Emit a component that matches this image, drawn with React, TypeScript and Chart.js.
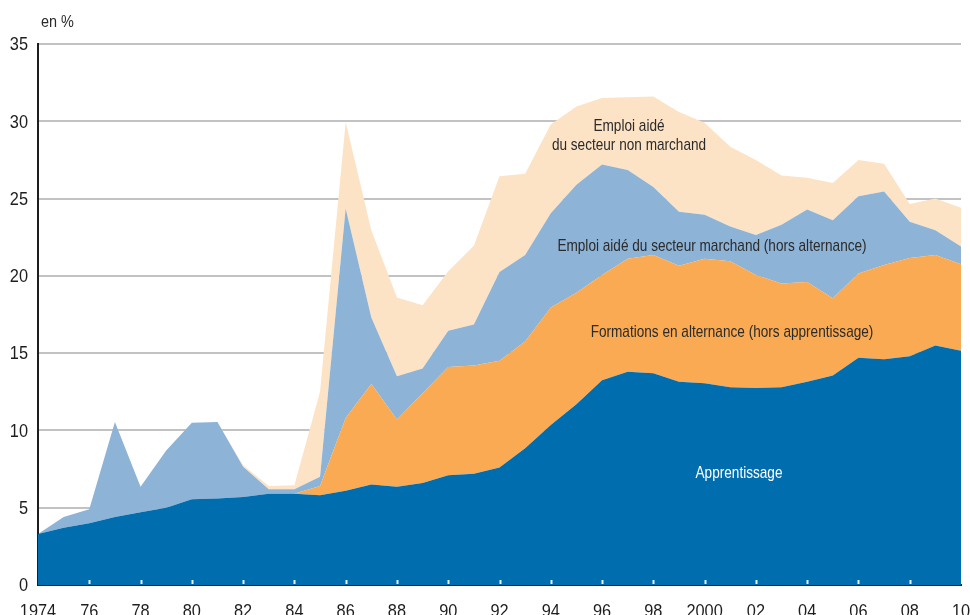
import React, { useEffect, useRef } from "react";
import { Chart, registerables } from "chart.js";

Chart.register(...registerables);

const years = [
  1974, 1975, 1976, 1977, 1978, 1979, 1980, 1981, 1982, 1983, 1984, 1985,
  1986, 1987, 1988, 1989, 1990, 1991, 1992, 1993, 1994, 1995, 1996, 1997,
  1998, 1999, 2000, 2001, 2002, 2003, 2004, 2005, 2006, 2007, 2008, 2009, 2010,
];

const xTickLabels = [
  "1974", "76", "78", "80", "82", "84", "86", "88", "90", "92",
  "94", "96", "98", "2000", "02", "04", "06", "08", "10",
];

const yTicks = [0, 5, 10, 15, 20, 25, 30, 35];

const apprentissage = [
  3.3, 3.7, 4.0, 4.4, 4.7, 5.0, 5.55, 5.6, 5.7, 5.9, 5.9, 5.8,
  6.1, 6.5, 6.35, 6.6, 7.1, 7.2, 7.6, 8.85, 10.35, 11.7, 13.25, 13.8,
  13.7, 13.15, 13.05, 12.8, 12.75, 12.8, 13.15, 13.55, 14.7, 14.6, 14.8, 15.5, 15.15,
];

const formations = [
  0, 0, 0, 0, 0, 0, 0, 0, 0, 0, 0, 0.6,
  4.7, 6.5, 4.35, 5.8, 7.0, 7.0, 6.9, 6.9, 7.6, 7.2, 6.8, 7.3,
  7.65, 7.5, 8.05, 8.15, 7.3, 6.7, 6.45, 5.0, 5.45, 6.1, 6.35, 5.85, 5.6,
];

const marchand = [
  0, 0.7, 0.9, 6.15, 1.65, 3.7, 4.95, 4.95, 1.95, 0.3, 0.3, 0.6,
  13.55, 4.3, 2.8, 1.6, 2.35, 2.65, 5.75, 5.6, 6.1, 7.0, 7.15, 5.75,
  4.4, 3.5, 2.85, 2.25, 2.6, 3.8, 4.7, 5.05, 5.0, 4.75, 2.35, 1.6, 1.15,
];

const nonMarchand = [
  0, 0, 0, 0, 0, 0, 0, 0, 0.1, 0.2, 0.25, 5.5,
  5.6, 5.65, 5.1, 4.1, 3.85, 5.1, 6.2, 5.25, 5.75, 5.05, 4.3, 4.7,
  5.85, 6.45, 5.95, 5.15, 4.85, 3.2, 2.05, 2.4, 2.35, 1.8, 1.15, 2.05, 2.5,
];

const FONT = "'Liberation Sans Narrow', 'Arial Narrow', 'Liberation Sans', sans-serif";

function narrowText(ctx: CanvasRenderingContext2D, text: string, x: number, y: number, sx: number) {
  ctx.save();
  ctx.translate(x, y);
  ctx.scale(sx, 1);
  ctx.fillText(text, 0, 0);
  ctx.restore();
}

export default function App() {
  const ref = useRef<HTMLCanvasElement | null>(null);

  useEffect(() => {
    if (!ref.current) return;
    const labels = years.map((y) => String(y));
    let k = 0;
    const tickMap: Record<number, string> = {};
    years.forEach((y, i) => {
      if (y % 2 === 0) {
        tickMap[i] = xTickLabels[k];
        k++;
      }
    });

    const annotations = {
      id: "annotations",
      afterDatasetsDraw(chart: any) {
        const ctx = chart.ctx as CanvasRenderingContext2D;
        const xs = chart.scales.x;
        const ys = chart.scales.y;
        ctx.save();
        // inner white tick marks on x axis
        ctx.strokeStyle = "rgba(255,255,255,0.9)";
        ctx.lineWidth = 2;
        years.forEach((y, i) => {
          if (y % 2 === 0 && i > 0 && i < years.length - 1) {
            const px = Math.round(xs.getPixelForValue(i)) + 0.5;
            ctx.beginPath();
            ctx.moveTo(px, ys.bottom - 5);
            ctx.lineTo(px, ys.bottom - 1);
            ctx.stroke();
          }
        });

        // axis tick labels (condensed)
        ctx.fillStyle = "#1e1e1e";
        ctx.font = `19px ${FONT}`;
        ctx.textAlign = "center";
        ctx.textBaseline = "alphabetic";
        years.forEach((_y, i) => {
          const t = tickMap[i];
          if (t !== undefined) {
            narrowText(ctx, t, xs.getPixelForValue(i), ys.bottom + 32, 0.86);
          }
        });
        ctx.textAlign = "right";
        ctx.textBaseline = "middle";
        yTicks.forEach((v) => {
          narrowText(ctx, String(v), 28, ys.getPixelForValue(v) + 1, 0.86);
        });

        // annotations
        ctx.font = `17px ${FONT}`;
        ctx.textAlign = "center";
        ctx.textBaseline = "middle";
        ctx.fillStyle = "#2b2b2b";
        const s = 0.8;
        narrowText(ctx, "Emploi aidé", 629, 126, s);
        narrowText(ctx, "du secteur non marchand", 629, 145, s);
        narrowText(ctx, "Emploi aidé du secteur marchand (hors alternance)", 712, 246, s);
        narrowText(ctx, "Formations en alternance (hors apprentissage)", 732, 332, s);
        ctx.fillStyle = "#ffffff";
        narrowText(ctx, "Apprentissage", 739, 473, s);
        ctx.textAlign = "left";
        ctx.fillStyle = "#2b2b2b";
        ctx.font = `17px ${FONT}`;
        narrowText(ctx, "en %", 41, 22, 0.85);
        ctx.restore();
      },
    };

    const common = {
      pointRadius: 0,
      borderWidth: 0,
      tension: 0,
    };

    const chart = new Chart(ref.current, {
      type: "line",
      data: {
        labels,
        datasets: [
          { ...common, label: "Apprentissage", data: apprentissage, backgroundColor: "#006DAE", borderColor: "#006DAE", fill: "origin" },
          { ...common, label: "Formations en alternance (hors apprentissage)", data: formations, backgroundColor: "#F9AA52", borderColor: "#F9AA52", fill: "-1" },
          { ...common, label: "Emploi aidé du secteur marchand (hors alternance)", data: marchand, backgroundColor: "#8DB3D7", borderColor: "#8DB3D7", fill: "-1" },
          { ...common, label: "Emploi aidé du secteur non marchand", data: nonMarchand, backgroundColor: "#FDE3C5", borderColor: "#FDE3C5", fill: "-1" },
        ],
      },
      options: {
        animation: false,
        responsive: false,
        maintainAspectRatio: false,
        layout: { padding: { top: 44, right: 9, left: 0, bottom: 0 } },
        plugins: { legend: { display: false }, tooltip: { enabled: false } },
        scales: {
          x: {
            type: "category",
            offset: false,
            stacked: true,
            grid: { display: false, drawTicks: false },
            border: { display: true, color: "#1e1e1e", width: 2 },
            ticks: { display: false, autoSkip: false },
            afterFit: (sc: any) => {
              sc.height = 30;
              sc.paddingLeft = 0;
              sc.paddingRight = 0;
            },
          },
          y: {
            stacked: true,
            min: 0,
            max: 35,
            afterBuildTicks: (sc: any) => {
              sc.ticks = yTicks.map((v) => ({ value: v }));
            },
            grid: { color: "#c2c2c2", lineWidth: 2, drawTicks: false },
            border: { display: true, color: "#1e1e1e", width: 2 },
            ticks: { display: false },
            afterFit: (sc: any) => {
              sc.width = 38;
            },
          },
        },
      },
      plugins: [annotations],
    });
    return () => chart.destroy();
  }, []);

  return (
    <div style={{ position: "fixed", left: 0, top: 0, width: 970, height: 615, background: "#fff" }}>
      <canvas ref={ref} width={970} height={615} style={{ display: "block" }} />
    </div>
  );
}
